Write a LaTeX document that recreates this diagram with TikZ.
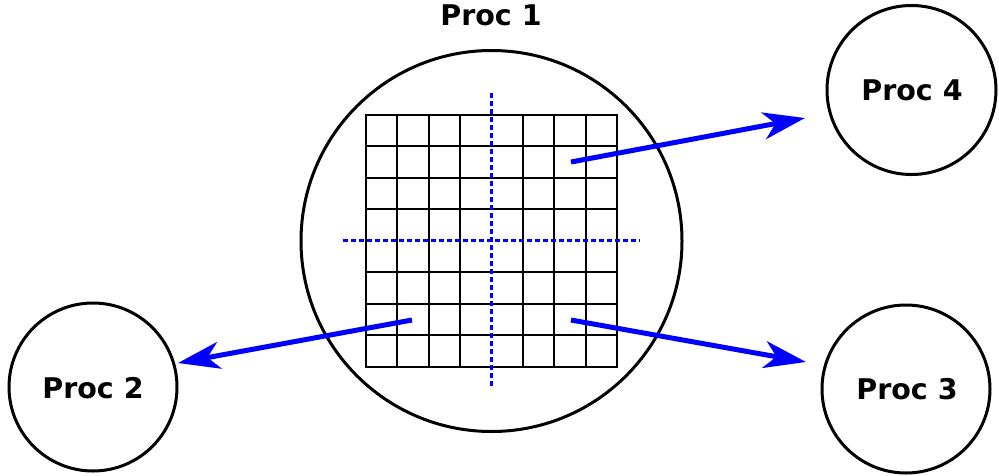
\documentclass[tikz,border=0pt]{standalone}
\usepackage{fontspec}
\setmainfont{DejaVu Sans}
\usetikzlibrary{arrows.meta}
\begin{document}
\begin{tikzpicture}[x=1pt,y=-1pt,
  proc/.style={circle,draw=black,line width=3pt,inner sep=0pt,minimum size=#1},
  lbl/.style={font=\fontsize{28.5}{33}\selectfont\bfseries,inner sep=0pt},
  gridline/.style={draw=black,line width=2pt},
  splitline/.style={draw=blue,line width=3pt,dash pattern=on 4.5pt off 3.5pt},
  sendarrow/.style={draw=blue,line width=5pt,-{Stealth[length=42pt,width=27pt,inset=12pt]}}]
\useasboundingbox (0,0) rectangle (999,475);
% processes
\node[proc=381pt] (p1) at (491.5,241) {};
\node[lbl] (l1) at (491,15.5) {Proc 1};
\node[proc=168pt] (p2) at (93,387) {};
\node[lbl] (l2) at (93,388) {Proc 2};
\node[proc=168pt] (p3) at (906,389) {};
\node[lbl] (l3) at (907,389) {Proc 3};
\node[proc=169pt] (p4) at (911.5,90) {};
\node[lbl] (l4) at (912,90.5) {Proc 4};
% grid
\draw[gridline] (366,115) rectangle (617,367);
\foreach \gx in {397,429,460,523,554,586}{
  \draw[gridline] (\gx,115) -- (\gx,367);
}
\foreach \gy in {146,178,209,272,304,335}{
  \draw[gridline] (366,\gy) -- (617,\gy);
}
% split lines
\coordinate (vt) at (491,93);
\coordinate (vb) at (491,389);
\coordinate (hl) at (343,240);
\coordinate (hr) at (640,240);
\draw[splitline] (vt) -- (vb);
\draw[splitline] (hl) -- (hr);
% arrows
\coordinate (s4) at (571,162);
\coordinate (e4) at (805,118);
\coordinate (s2) at (412,320);
\coordinate (e2) at (178,363);
\coordinate (s3) at (571,320);
\coordinate (e3) at (806,362);
\draw[sendarrow] (s4) -- (e4);
\draw[sendarrow] (s2) -- (e2);
\draw[sendarrow] (s3) -- (e3);
\end{tikzpicture}
\end{document}
